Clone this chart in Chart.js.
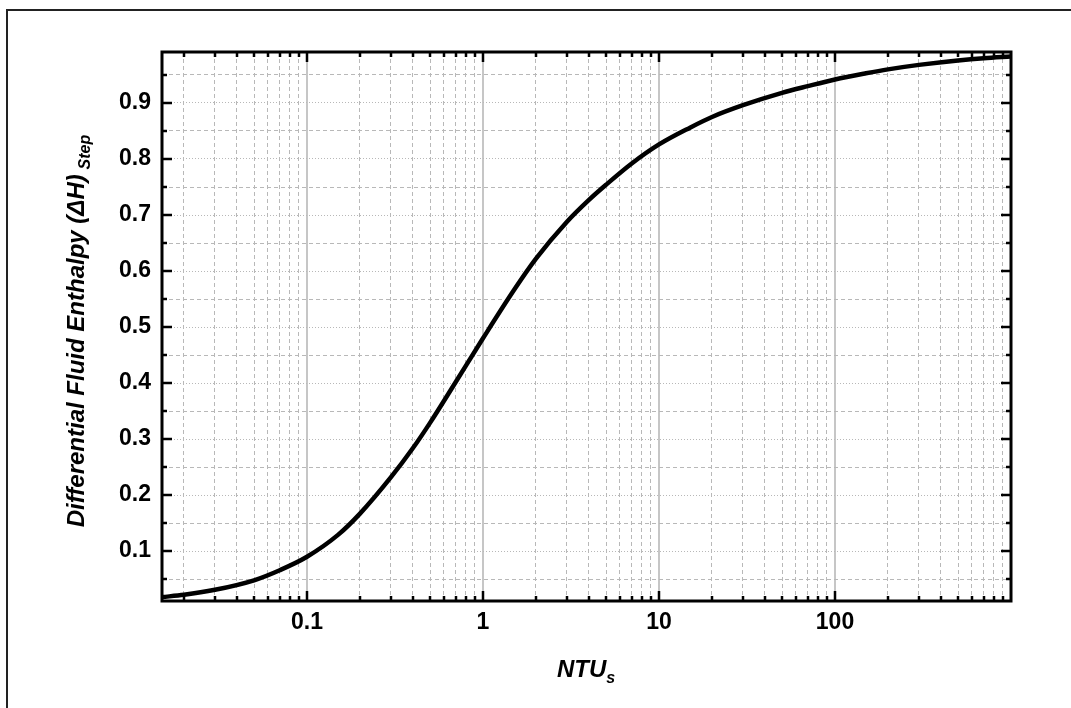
<!DOCTYPE html>
<html>
<head>
<meta charset="utf-8">
<script src="https://cdn.jsdelivr.net/npm/chart.js@4"></script>
<style>
  html, body { margin: 0; padding: 0; background: #fff; }
  #wrap { position: relative; width: 1071px; height: 708px; overflow: hidden; }
  #chart { position: absolute; left: 0; top: 0; }
  #frame {
    position: absolute; left: 6px; top: 9px; width: 1100px; height: 720px;
    border-left: 2px solid #222; border-top: 2px solid #222; pointer-events: none;
  }
  .title { position: absolute; white-space: nowrap; color: #000;
    font-family: 'Liberation Sans', Arial, sans-serif; font-weight: bold; font-style: italic; }
  .title sub { font-size: 16px; vertical-align: baseline; position: relative; top: 6px; }
  #ytitle { left: 76px; top: 331px; font-size: 24px; transform: translate(-50%, -50%) rotate(-90deg); }
  #xtitle { left: 586px; top: 669px; font-size: 24px; transform: translate(-50%, -50%); }
</style>
</head>
<body>
<div id="wrap">
  <canvas id="chart" width="1071" height="708"></canvas>
  <div id="frame"></div>
  <div class="title" id="ytitle">Differential Fluid Enthalpy (ΔH)&thinsp;<sub>Step</sub></div>
  <div class="title" id="xtitle">NTU<sub>s</sub></div>
</div>
<script>
// ── data ────────────────────────────────────────────
const ntu      = [0.015, 0.02, 0.03, 0.05, 0.07, 0.1, 0.15, 0.2, 0.3, 0.4, 0.5, 0.7, 1,
                  1.5, 2, 3, 4, 5, 7, 10, 15, 20, 30, 50, 70, 100, 150, 200, 300, 500, 700, 1000];
const enthalpy = [0.018, 0.022, 0.031, 0.048, 0.066, 0.090, 0.129, 0.167, 0.232, 0.284, 0.329, 0.402, 0.480,
                  0.566, 0.622, 0.688, 0.727, 0.754, 0.792, 0.826, 0.856, 0.875, 0.896, 0.918, 0.930, 0.942,
                  0.953, 0.960, 0.968, 0.976, 0.980, 0.983];

// axis ticks
const xDecades   = [0.01, 0.1, 1, 10, 100];
const xMultiples = [1, 2, 3, 4, 5, 6, 7, 8, 9];
const xLabels    = [0.1, 1, 10, 100];
const yTicks     = [0.05, 0.1, 0.15, 0.2, 0.25, 0.3, 0.35, 0.4, 0.45, 0.5, 0.55, 0.6, 0.65, 0.7, 0.75, 0.8, 0.85, 0.9, 0.95];
const yLabels    = [0.1, 0.2, 0.3, 0.4, 0.5, 0.6, 0.7, 0.8, 0.9];

const X_MIN = 0.015, X_MAX = 1000;
const Y_MIN = 0.011, Y_MAX = 0.991;

const xTicks = [];
xDecades.forEach(d => xMultiples.forEach(m => {
  const v = +(d * m).toPrecision(3);
  if (v > X_MIN && v < X_MAX) xTicks.push(v);
}));

const isXMajor = v => xLabels.some(l => Math.abs(l - v) < 1e-9);
const isYMajor = v => yLabels.some(l => Math.abs(l - v) < 1e-9);

const fontFamily = "'Liberation Sans', Arial, sans-serif";

// frame + inward tick marks on all four sides
const frameTicks = {
  id: 'frameTicks',
  afterDraw(chart) {
    const { ctx, chartArea: a, scales: { x, y } } = chart;
    ctx.save();
    ctx.strokeStyle = '#000';
    ctx.lineWidth = 2.5;
    ctx.beginPath();
    xTicks.forEach(v => {
      const px = Math.round(x.getPixelForValue(v));
      const len = isXMajor(v) ? 10 : 5;
      ctx.moveTo(px, a.bottom); ctx.lineTo(px, a.bottom - len);
      ctx.moveTo(px, a.top);    ctx.lineTo(px, a.top + len);
    });
    yTicks.forEach(v => {
      const py = Math.round(y.getPixelForValue(v));
      const len = isYMajor(v) ? 10 : 5;
      ctx.moveTo(a.left, py);  ctx.lineTo(a.left + len, py);
      ctx.moveTo(a.right, py); ctx.lineTo(a.right - len, py);
    });
    ctx.stroke();
    ctx.lineWidth = 3;
    ctx.strokeRect(a.left, a.top, a.right - a.left, a.bottom - a.top);
    ctx.restore();
  }
};

new Chart(document.getElementById('chart'), {
  type: 'line',
  data: {
    datasets: [{
      data: ntu.map((v, i) => ({ x: v, y: enthalpy[i] })),
      borderColor: '#000',
      borderWidth: 4.5,
      pointRadius: 0,
      fill: false,
      cubicInterpolationMode: 'monotone'
    }]
  },
  options: {
    responsive: false,
    animation: false,
    layout: { padding: { left: 0, top: 52, right: 60, bottom: 0 } },
    plugins: { legend: { display: false }, tooltip: { enabled: false } },
    scales: {
      x: {
        type: 'logarithmic',
        min: X_MIN,
        max: X_MAX,
        afterBuildTicks: s => { s.ticks = xTicks.map(v => ({ value: v, major: isXMajor(v) })); },
        afterFit: s => { s.height = 107; },
        grid: {
          drawTicks: false,
          color: c => isXMajor(c.tick.value) ? '#c6c6c6' : '#b8b8b8',
          lineWidth: c => isXMajor(c.tick.value) ? 2 : 1
        },
        border: {
          display: false,
          dash: c => isXMajor(c.tick.value) ? [] : [4, 3]
        },
        ticks: {
          autoSkip: false,
          maxRotation: 0,
          padding: 8,
          color: '#000',
          font: { family: fontFamily, size: 23, weight: 'bold' },
          callback: v => isXMajor(v) ? String(v) : ''
        }
      },
      y: {
        type: 'linear',
        min: Y_MIN,
        max: Y_MAX,
        afterBuildTicks: s => { s.ticks = yTicks.map(v => ({ value: v })); },
        afterFit: s => { s.width = 162; },
        grid: {
          drawTicks: false,
          color: '#b8b8b8',
          lineWidth: 1
        },
        border: {
          display: false,
          dash: c => isYMajor(c.tick.value) ? [1, 2] : [4, 3]
        },
        ticks: {
          autoSkip: false,
          padding: 11,
          color: '#000',
          font: { family: fontFamily, size: 23, weight: 'bold' },
          callback: v => isYMajor(v) ? v.toFixed(1) : ''
        }
      }
    }
  },
  plugins: [frameTicks]
});
</script>
</body>
</html>
